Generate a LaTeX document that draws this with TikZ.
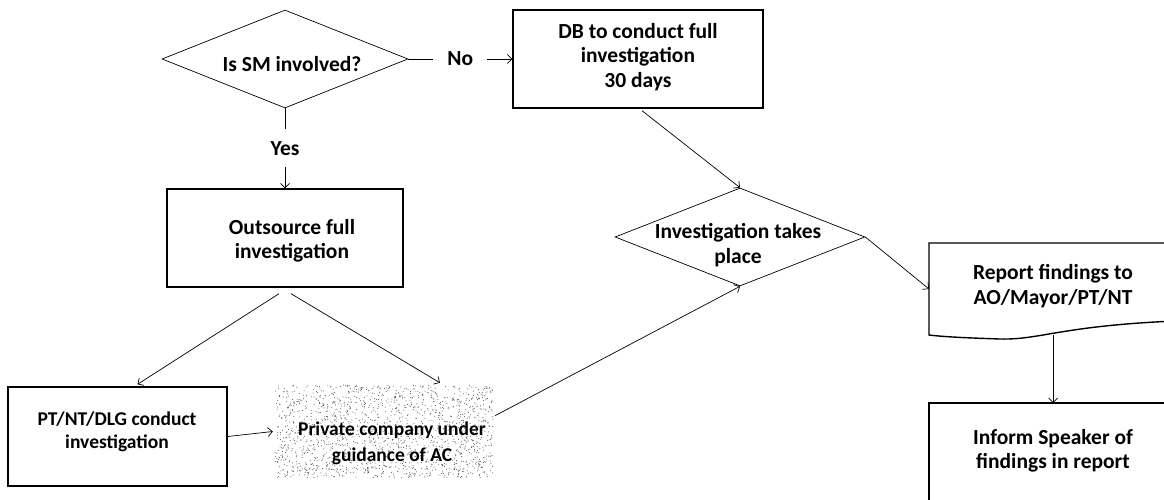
\documentclass[tikz,border=0pt]{standalone}
\usepackage{fontspec}
\setmainfont{Carlito}
\usetikzlibrary{arrows.meta,calc,shapes.geometric}

\begin{document}
\begin{tikzpicture}[x=1pt,y=-1pt,
  txt/.style={font=\bfseries\fontsize{21.5}{24.5}\selectfont,align=center,inner sep=0pt},
  smalltxt/.style={txt,font=\bfseries\fontsize{19.5}{#1}\selectfont},
  box/.style={draw,line width=1.4pt,inner sep=0pt,minimum width=#1},
  decision/.style={diamond,draw,line width=0.7pt,inner sep=0pt},
  link/.style={line width=0.7pt,-{Straight Barb[length=4.5pt,width=9pt]}}]
\useasboundingbox (0,0) rectangle (1164,500);
\clip (0,0) rectangle (1164,500);

% decision: is SM involved
\node[decision,minimum width=246pt,minimum height=98pt] (d1) at (285,59) {};
\node[txt] (d1t) at (292,64) {Is SM involved?};

% DB investigation
\node[box=250pt,minimum height=98pt] (db) at (638,59) {};
\node[txt] (dbt) at (638,57) {DB to conduct full\\investigation\\30 days};

% outsourcing
\node[box=236pt,minimum height=98pt] (out) at (285,238) {};
\node[txt] (outt) at (292,241) {Outsource full\\investigation};

% PT/NT/DLG box
\node[box=219pt,minimum height=99pt] (pt) at (117.5,436.5) {};
\node[smalltxt=23] (ptt) at (117,432) {PT/NT/DLG conduct\\investigation};

% private company, stippled
\begin{scope}
  \pgfmathsetseed{41}
  \foreach \i in {1,...,1700} {
    \fill[black!70] ({275+218*rnd},{385+93*rnd}) circle (0.5);
  }
\end{scope}
\node[minimum width=218pt,minimum height=93pt,inner sep=0pt] (priv) at (384,431.5) {};
\node[smalltxt=26] (privt) at (392,443) {Private company under\\guidance of AC};

% investigation decision
\node[decision,minimum width=250pt,minimum height=98pt] (inv) at (740,237) {};
\node[txt] (invt) at (738,245) {Investigation takes\\place};

% report (document shape)
\draw[line width=1.4pt] (929,243) -- (1175,243) -- (1175,321)
  .. controls (1060,326) and (1040,340) .. (1000,339)
  .. controls (970,338) and (945,337) .. (929,335) -- cycle;
\coordinate (repw) at (929,289);
\coordinate (reps) at (1053,335);
\node[txt] (rept) at (1053,286) {Report findings to\\AO/Mayor/PT/NT};

% inform speaker
\draw[line width=1.4pt] (929,520) -- (929,403) -- (1175,403);
\coordinate (infn) at (1053,403);
\node[txt] (inft) at (1053,451) {Inform Speaker of\\findings in report};

% connectors
\draw[link] (d1.east) -- node[txt,fill=white,inner xsep=14pt,inner ysep=4pt] {No} (db.west);
\draw[link] (d1.south) -- node[txt,fill=white,inner xsep=4pt,inner ysep=12pt] {Yes} (out.north);
\draw[link] ($(out.south)+(-6,6)$) -- ($(pt.north)+(20,-2)$);
\draw[link] ($(out.south)+(6,6)$) -- ($(priv.north)+(56,-2)$);
\draw[link] (pt.east) -- ($(priv.west)+(-2,0)$);
\draw[link] ($(priv.north east)!0.33!(priv.south east)+(2,0)$) -- (inv.south);
\draw[link] ($(db.south)+(4,2)$) -- (inv.north);
\draw[link] (inv.east) -- (repw);
\draw[link] (reps) -- (infn);
\end{tikzpicture}
\end{document}
